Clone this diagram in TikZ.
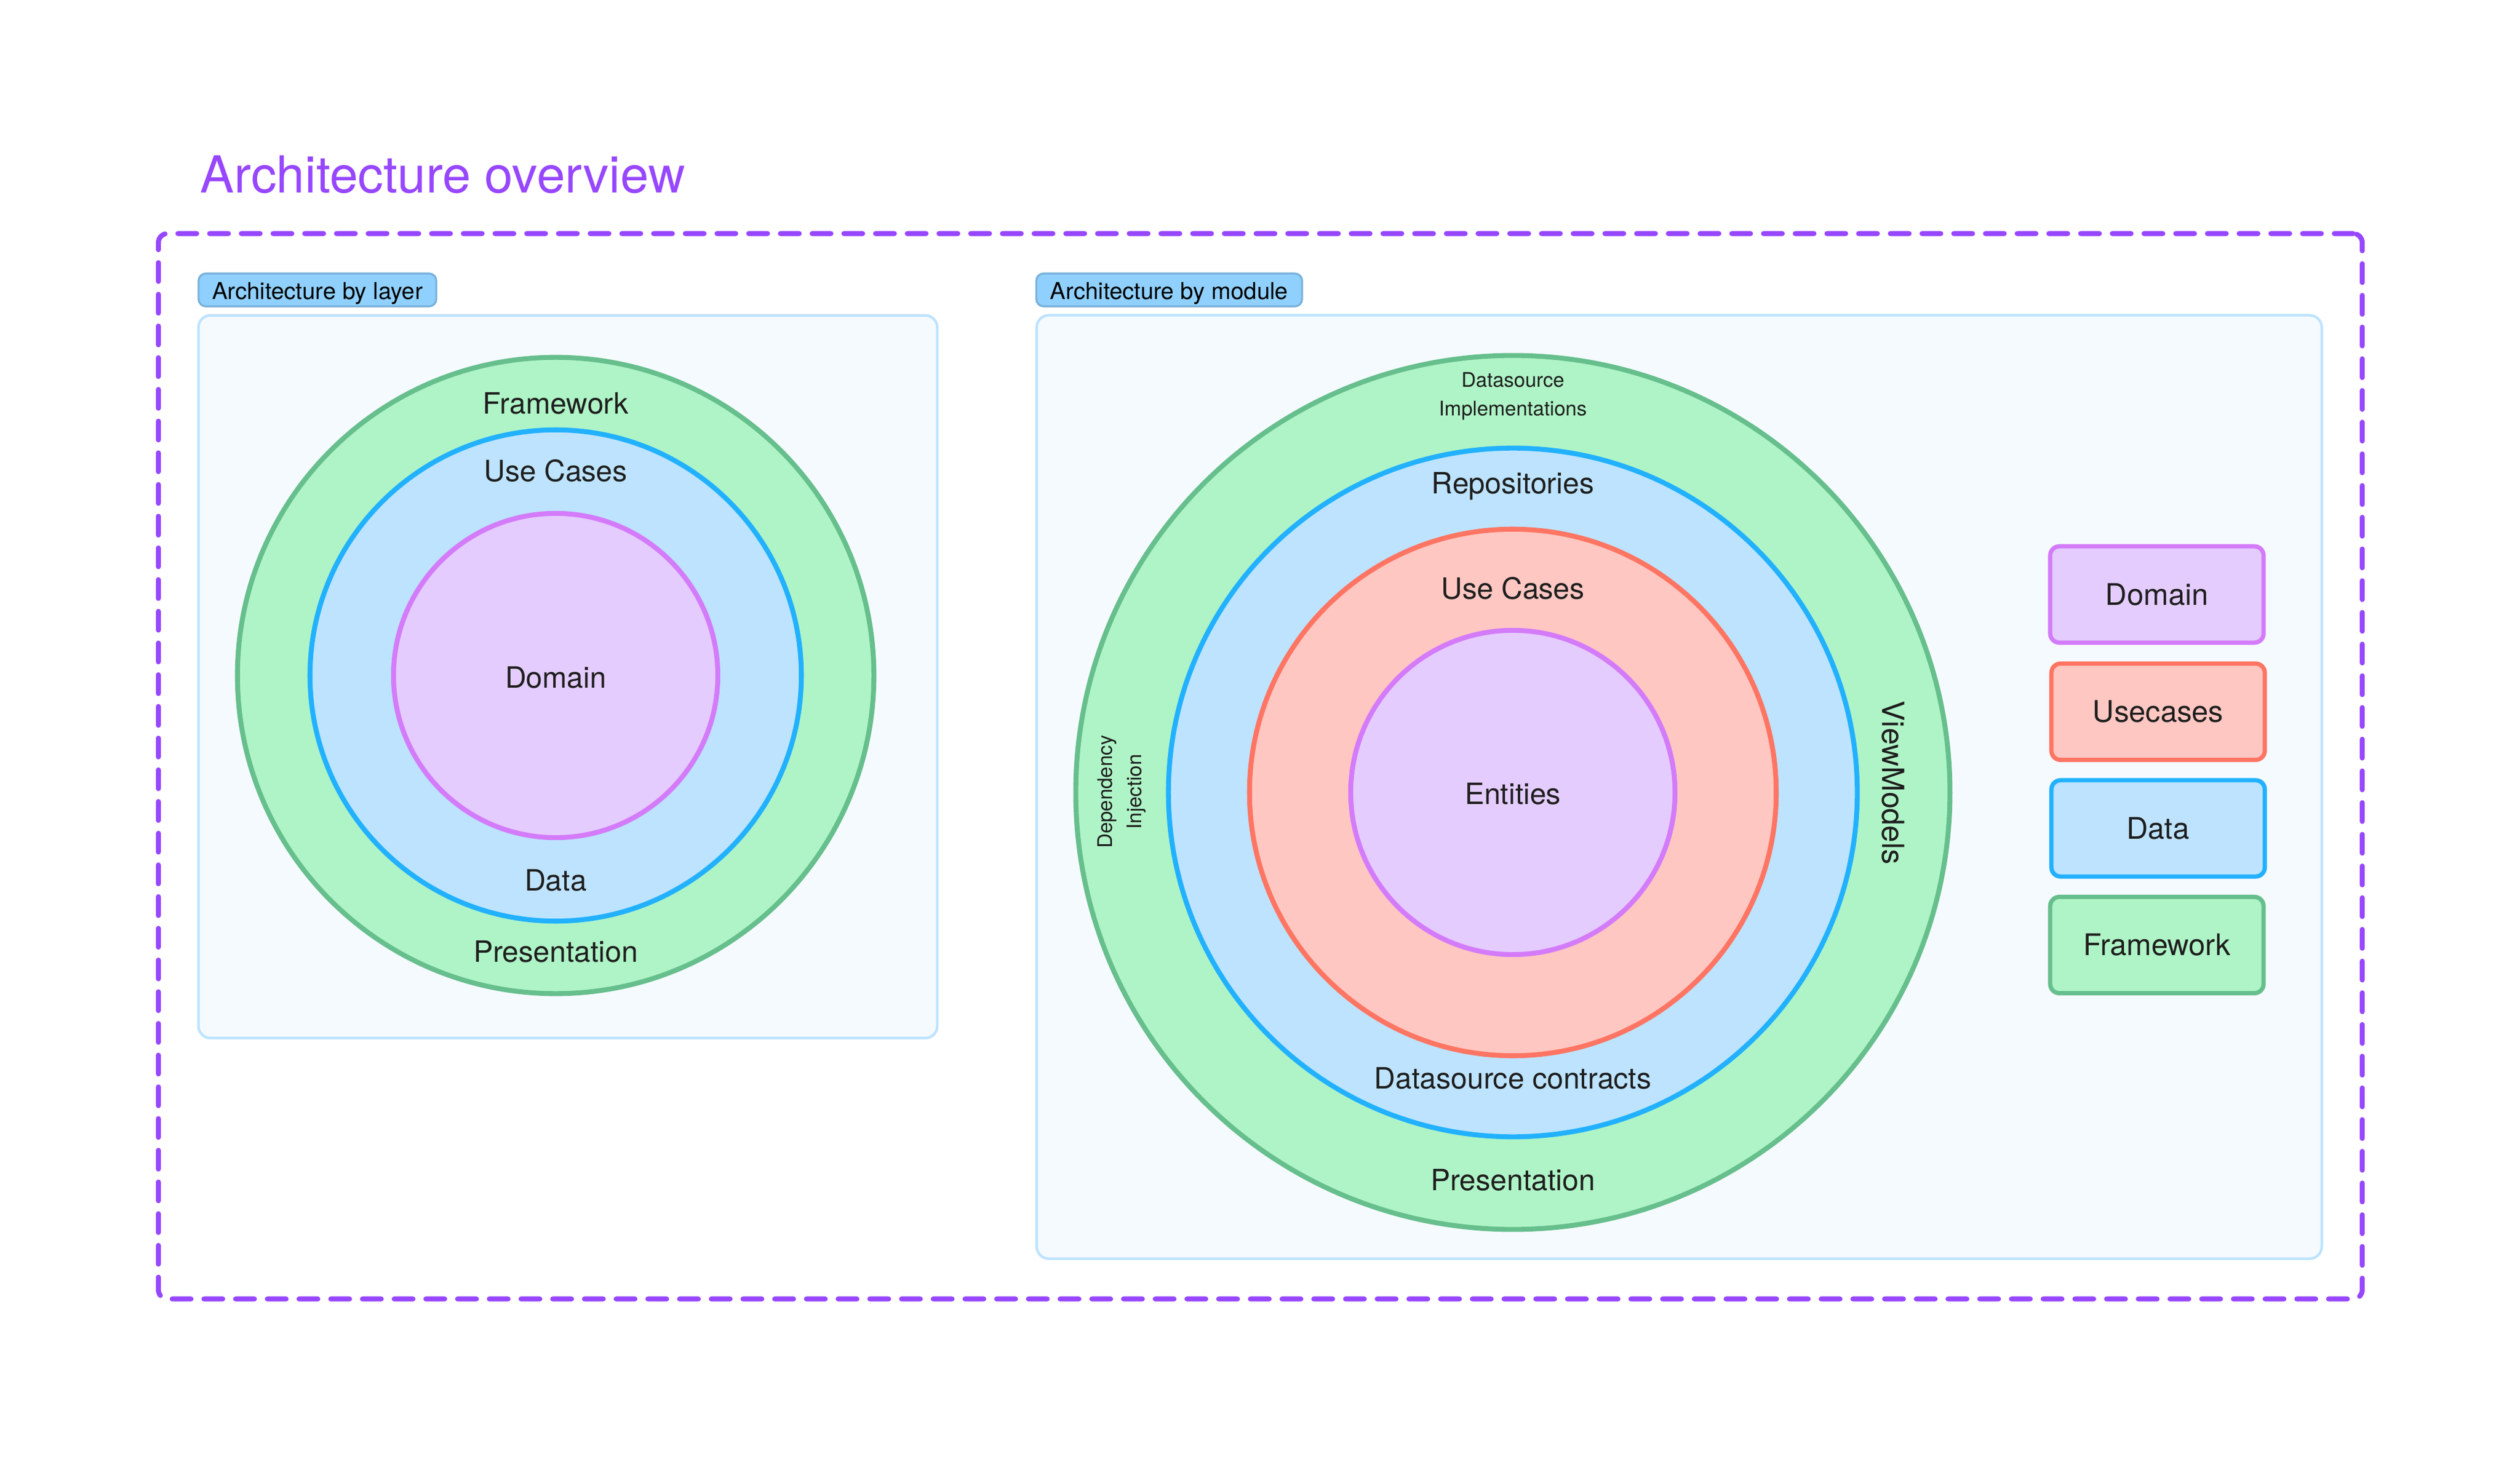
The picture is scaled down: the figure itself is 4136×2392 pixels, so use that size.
\documentclass[tikz,border=0pt]{standalone}
\usepackage{fontspec}
\setmainfont{TeX Gyre Heros}
\usetikzlibrary{positioning}
\definecolor{frameP}{HTML}{9747FF}
\definecolor{txt}{HTML}{1E1E1E}
\definecolor{gFill}{HTML}{AFF4C6}
\definecolor{gLine}{HTML}{66BF8C}
\definecolor{bFill}{HTML}{BDE3FF}
\definecolor{bLine}{HTML}{22B1FF}
\definecolor{pFill}{HTML}{E4CCFF}
\definecolor{pLine}{HTML}{D47BF9}
\definecolor{rFill}{HTML}{FFC7C2}
\definecolor{rLine}{HTML}{FF7563}
\definecolor{panelFill}{HTML}{F5FAFF}
\definecolor{panelLine}{HTML}{BDE3FF}
\definecolor{tagFill}{HTML}{90D0FE}
\definecolor{tagLine}{HTML}{78B0DA}
\tikzset{
  ring/.style={circle, inner sep=0pt, outer sep=0pt, line width=2.3pt, minimum size=#1},
  greenring/.style={ring=#1, draw=gLine, fill=gFill},
  bluering/.style={ring=#1, draw=bLine, fill=bFill},
  purplering/.style={ring=#1, draw=pLine, fill=pFill},
  redring/.style={ring=#1, draw=rLine, fill=rFill},
  panel/.style={draw=panelLine, fill=panelFill, line width=1.2pt, rounded corners=0.2cm, inner sep=0pt},
  tag/.style={draw=tagLine, fill=tagFill, line width=0.9pt, rounded corners=0.12cm, inner sep=0pt,
     minimum height=0.54cm, text height=0.31cm, text depth=0pt,
     font=\fontsize{10.9pt}{12pt}\selectfont, text=black},
  lbl/.style={font=\fontsize{13.7pt}{16pt}\selectfont, text=txt, inner sep=0pt},
  small/.style={font=\fontsize{9.4pt}{13.4pt}\selectfont, text=txt, inner sep=0pt, align=center},
  legend/.style={rounded corners=0.15cm, line width=2pt, minimum width=3.5cm, minimum height=1.58cm,
     inner sep=0pt, font=\fontsize{13.9pt}{16pt}\selectfont, text=txt},
}
\begin{document}
\begin{tikzpicture}[x=0.01cm, y=-0.01cm]
\useasboundingbox[fill=white] (0,0) rectangle (4136,2392);

% title
\node[anchor=base west, inner sep=0pt, text=frameP, font=\fontsize{23.8pt}{28pt}\selectfont] (title) at (328,317) {Architecture overview};

% dashed frame
\node[draw=frameP, line width=2.3pt, dash pattern=on 8.8pt off 6pt, line cap=round, rounded corners=0.15cm,
      minimum width=36.15cm, minimum height=17.48cm, inner sep=0pt] (frame) at (2068.5,1258) {};

% panels
\node[panel, minimum width=12.12cm, minimum height=11.86cm] (leftpanel) at (932,1111) {};
\node[panel, minimum width=21.08cm, minimum height=15.48cm] (rightpanel) at (2756,1292) {};

% tags
\node[tag, minimum width=3.9cm] (tagleft) at (521,476) {Architecture by layer};
\node[tag, minimum width=4.36cm] (tagright) at (1919,476) {Architecture by module};

% left circles
\coordinate (lc) at (912,1109);
\node[greenring=10.44cm] (lgreen) at (lc) {};
\node[bluering=8.06cm] (lblue) at (lc) {};
\node[purplering=5.32cm] (lpurple) at (lc) {};
\node[lbl] (lframework) at (912,662) {Framework};
\node[lbl] (lusecases) at (912,773) {Use Cases};
\node[lbl] (ldomain) at (912,1112) {Domain};
\node[lbl] (ldata) at (912,1445) {Data};
\node[lbl] (lpresentation) at (912,1562) {Presentation};

% right circles
\coordinate (rc) at (2483,1301);
\node[greenring=14.34cm] (rgreen) at (rc) {};
\node[bluering=11.30cm] (rblue) at (rc) {};
\node[redring=8.64cm] (rred) at (rc) {};
\node[purplering=5.32cm] (rpurple) at (rc) {};
\node[small] (dsimpl) at (2483,651) {Datasource\\Implementations};
\node[lbl] (repos) at (2483,798) {Repositories};
\node[lbl] (rusecases) at (2483,966) {Use Cases};
\node[lbl] (entities) at (2483,1303) {Entities};
\node[lbl] (dscontracts) at (2483,1770) {Datasource contracts};
\node[lbl] (rpresentation) at (2483,1937) {Presentation};
\node[lbl, font=\fontsize{14.2pt}{16pt}\selectfont, rotate=-90] (viewmodels) at (3107,1285) {ViewModels};
\node[small, rotate=90] (di) at (1841,1300) {Dependency\\Injection};

% legend
\node[legend, draw=pLine, fill=pFill] (legdomain) at (3540,976) {Domain};
\node[legend, draw=rLine, fill=rFill] (legusecases) at (3542,1168.5) {Usecases};
\node[legend, draw=bLine, fill=bFill] (legdata) at (3542,1360) {Data};
\node[legend, draw=gLine, fill=gFill] (legframework) at (3540,1551.5) {Framework};
\end{tikzpicture}
\end{document}
